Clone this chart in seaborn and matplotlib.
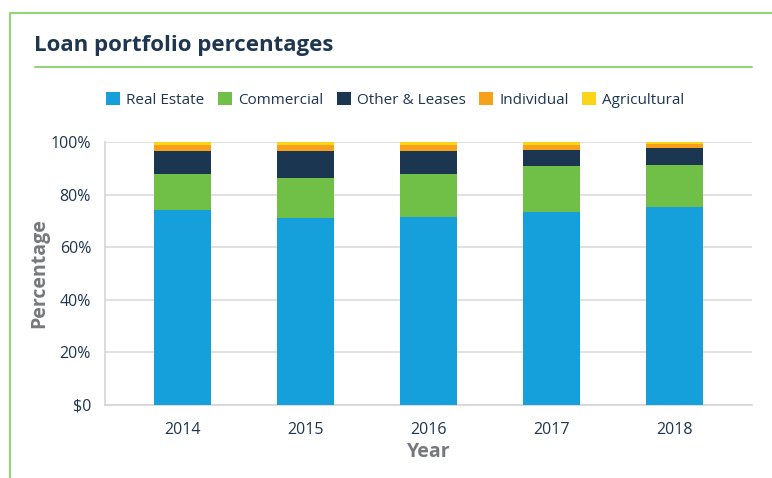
import numpy as np
import pandas as pd
import matplotlib.pyplot as plt
import seaborn as sns
from matplotlib.lines import Line2D
from matplotlib.patches import Patch

# --- DATA ---
years = ['2014', '2015', '2016', '2017', '2018']
categories = ['Real Estate', 'Commercial', 'Other & Leases', 'Individual', 'Agricultural']
real_estate = [74.3, 71.2, 71.6, 73.5, 75.2]
commercial = [13.7, 15.3, 16.4, 17.2, 16.2]
other_leases = [8.6, 9.9, 8.4, 6.4, 6.5]
individual = [2.1, 2.3, 2.3, 1.6, 1.5]
agricultural = [1.3, 1.3, 1.3, 1.3, 0.6]
y_ticks = [0, 20, 40, 60, 80, 100]
y_tick_labels = ['$0', '20%', '40%', '60%', '80%', '100%']

colors = ['#16a0db', '#70bf47', '#1b3650', '#f7a01b', '#fdd518']
navy = '#1e3650'
grey = '#77787b'
green_line = '#93d47a'

sns.set_theme(style='white')
plt.rcParams['font.family'] = ['Open Sans', 'DejaVu Sans']

df = pd.DataFrame({'Year': years, 'Real Estate': real_estate, 'Commercial': commercial,
                   'Other & Leases': other_leases, 'Individual': individual,
                   'Agricultural': agricultural})
cum = df[categories].cumsum(axis=1)

fig = plt.figure(figsize=(7.72, 4.78), dpi=100)
ax = fig.add_axes([105 / 772, 73 / 478, 647 / 772, 263 / 478])

# stacked bars: draw cumulative totals from top segment down
for cat, col in reversed(list(zip(categories, colors))):
    sns.barplot(x=df['Year'], y=cum[cat], color=col, width=0.47, ax=ax,
                saturation=1, linewidth=0, zorder=3)

ax.set_ylim(0, 100)
ax.set_xlim(-0.63, 4.63)
ax.set_yticks(y_ticks)
ax.set_yticklabels(y_tick_labels)
ax.yaxis.grid(True, color='#dcdcdc', linewidth=1.2, zorder=0)
ax.set_axisbelow(True)
for s in ['top', 'right']:
    ax.spines[s].set_visible(False)
for s in ['left', 'bottom']:
    ax.spines[s].set_color('#d5d5d5')
    ax.spines[s].set_linewidth(1.2)
ax.tick_params(axis='both', length=0, labelsize=11.5, labelcolor=navy)
ax.tick_params(axis='x', pad=12)
ax.tick_params(axis='y', pad=10)
ax.set_xlabel('Year', fontsize=14, fontweight='bold', color=grey, labelpad=3)
ax.set_ylabel('Percentage', fontsize=14, fontweight='bold', color=grey, labelpad=1)

# legend
handles = [Patch(facecolor=c, edgecolor='none') for c in colors]
fig.legend(handles, categories, loc='center left', bbox_to_anchor=(100 / 772, 1 - 100 / 478),
           ncol=5, frameon=False, fontsize=11, handlelength=0.9, handleheight=0.9,
           handletextpad=0.4, columnspacing=0.9, labelcolor=navy, borderaxespad=0)

# title and frame lines
fig.text(34 / 772, 1 - 46 / 478, 'Loan portfolio percentages', fontsize=16, fontweight='bold',
         color=navy, va='center', ha='left')
fig.add_artist(Line2D([35 / 772, 752 / 772], [1 - 67 / 478] * 2, color=green_line, lw=1.5))
fig.add_artist(Line2D([10 / 772, 1], [1 - 13 / 478] * 2, color=green_line, lw=1.5))
fig.add_artist(Line2D([10 / 772] * 2, [0, 1 - 13 / 478], color=green_line, lw=1.5))

fig.savefig('out.png', dpi=100)
